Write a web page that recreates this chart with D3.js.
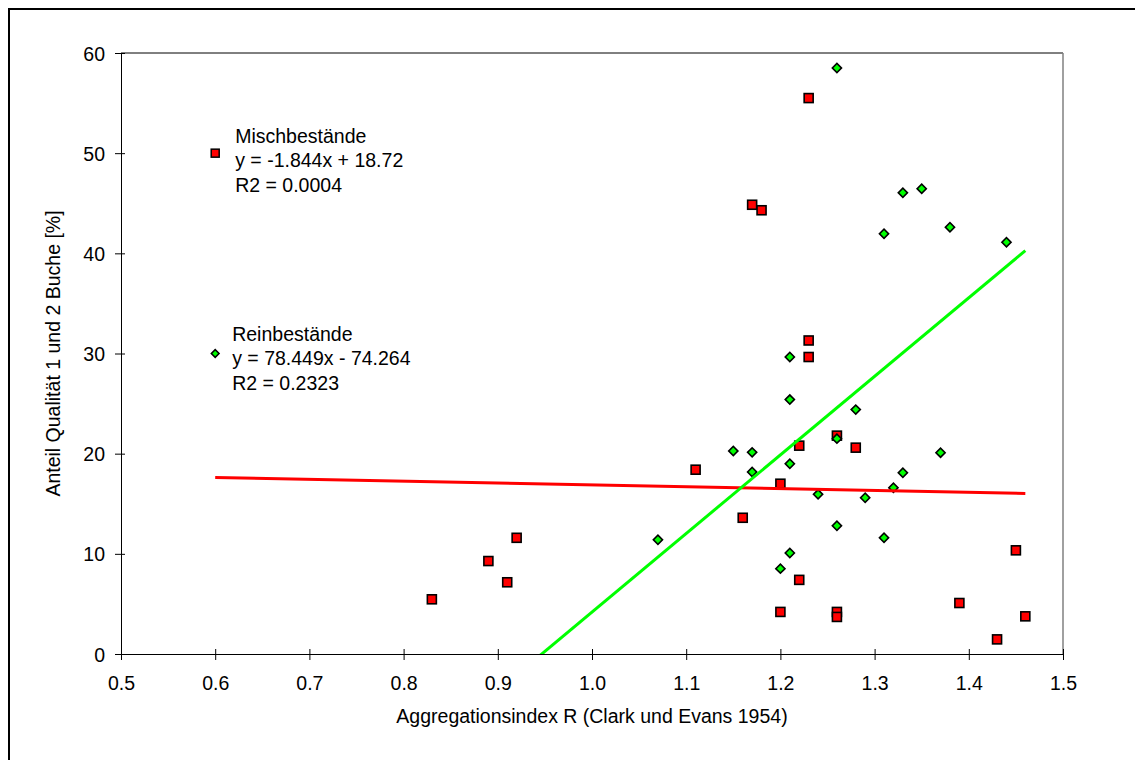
<!DOCTYPE html>
<html>
<head>
<meta charset="utf-8">
<script src="https://cdn.jsdelivr.net/npm/d3@7"></script>
<style>
    body { margin: 0; background: #fff; }
    svg { display: block; font-family: "Liberation Sans", Arial, sans-serif; }
</style>
</head>
<body>
<div id="chart"></div>
<script>
// Mischbestände (rote Quadrate)
const mischX = [1.23, 1.17, 1.18, 1.23, 1.23, 1.26, 1.22, 1.28, 1.11, 1.20, 1.16, 1.22,
                1.20, 1.26, 1.26, 0.92, 0.89, 0.91, 0.83, 1.45, 1.39, 1.46, 1.43];
const mischY = [55.5, 44.85, 44.3, 31.3, 29.65, 21.8, 20.8, 20.6, 18.4, 17.0, 13.6, 7.4,
                4.2, 4.2, 3.7, 11.6, 9.28, 7.16, 5.46, 10.35, 5.09, 3.76, 1.46];

// Reinbestände (grüne Rauten)
const reinX = [1.26, 1.31, 1.33, 1.35, 1.38, 1.44, 1.28, 1.37, 1.33, 1.32, 1.29, 1.31,
               1.21, 1.21, 1.26, 1.15, 1.17, 1.21, 1.17, 1.24, 1.26, 1.07, 1.21, 1.20];
const reinY = [58.5, 41.95, 46.05, 46.45, 42.6, 41.1, 24.4, 20.1, 18.1, 16.6, 15.6, 11.6,
               29.65, 25.4, 21.5, 20.27, 20.13, 19.0, 18.17, 15.94, 12.8, 11.4, 10.08, 8.52];

// Trendlinien: Steigung, Achsenabschnitt, x-Bereich
const mischTrend = {slope: -1.844, intercept: 18.72};
const reinTrend = {slope: 78.449, intercept: -74.264};
const trendRange = [0.6, 1.46];

// Legende (als Punkte im Diagramm) und Texte
const legendPos = [[0.6, 50], [0.6, 30]];
const mischLabel = ["Mischbestände", "y = -1.844x + 18.72", "R2 = 0.0004"];
const reinLabel = ["Reinbestände", "y = 78.449x - 74.264", "R2 = 0.2323"];

const xTicks = [0.5, 0.6, 0.7, 0.8, 0.9, 1.0, 1.1, 1.2, 1.3, 1.4, 1.5];
const yTicks = [0, 10, 20, 30, 40, 50, 60];

const width = 1135, height = 760;
const plot = {left: 121, right: 1063, top: 53, bottom: 654};

const svg = d3.select("#chart").append("svg")
    .attr("width", width)
    .attr("height", height);

// äußerer Rahmen
svg.append("rect")
    .attr("x", 9).attr("y", 9)
    .attr("width", 1140).attr("height", 770)
    .attr("fill", "none")
    .attr("stroke", "#000")
    .attr("stroke-width", 2);

const xScale = d3.scaleLinear().domain([0.5, 1.5]).range([plot.left, plot.right]);
const yScale = d3.scaleLinear().domain([0, 60]).range([plot.bottom, plot.top]);

svg.append("clipPath").attr("id", "clip")
    .append("rect")
    .attr("x", plot.left).attr("y", plot.top)
    .attr("width", plot.right - plot.left).attr("height", plot.bottom - plot.top);

// Rahmen der Zeichnungsfläche (oben schwarz, rechts grau)
svg.append("line")
    .attr("x1", plot.left).attr("x2", plot.right)
    .attr("y1", plot.top).attr("y2", plot.top)
    .attr("stroke", "#000");
svg.append("line")
    .attr("x1", plot.right).attr("x2", plot.right)
    .attr("y1", plot.top).attr("y2", plot.bottom)
    .attr("stroke", "#808080")
    .attr("stroke-width", 1.5);

// X-Achse
const xAxis = svg.append("g")
    .attr("transform", `translate(0,${plot.bottom})`)
    .call(d3.axisBottom(xScale).tickValues(xTicks).tickFormat(d3.format(".1f")).tickSizeInner(6).tickSizeOuter(0));
xAxis.selectAll(".tick line").attr("y1", -5).attr("stroke", "#000");
xAxis.selectAll(".tick text")
    .attr("y", 36).attr("dy", null)
    .attr("fill", "#000")
    .style("font-size", "19.5px")
    .style("font-family", "'Liberation Sans', Arial, sans-serif");
xAxis.select(".domain").attr("stroke", "#000");

// Y-Achse
const yAxis = svg.append("g")
    .attr("transform", `translate(${plot.left},0)`)
    .call(d3.axisLeft(yScale).tickValues(yTicks).tickSizeInner(6).tickSizeOuter(0));
yAxis.selectAll(".tick line").attr("x1", -6).attr("x2", 4).attr("stroke", "#000");
yAxis.selectAll(".tick text")
    .attr("x", -16).attr("dy", "0.36em")
    .attr("fill", "#000")
    .style("font-size", "19.5px")
    .style("font-family", "'Liberation Sans', Arial, sans-serif");
yAxis.select(".domain").attr("stroke", "#000");

// Achsentitel
svg.append("text")
    .attr("x", (plot.left + plot.right) / 2)
    .attr("y", 723)
    .attr("text-anchor", "middle")
    .style("font-size", "19.5px")
    .text("Aggregationsindex R (Clark und Evans 1954)");

svg.append("text")
    .attr("transform", `translate(60,${(plot.top + plot.bottom) / 2}) rotate(-90)`)
    .attr("text-anchor", "middle")
    .style("font-size", "19.5px")
    .text("Anteil Qualität 1 und 2 Buche [%]");

// Marker
const sq = 9;
const misch = mischX.map((x, i) => ({x: x, y: mischY[i]}));
const rein = reinX.map((x, i) => ({x: x, y: reinY[i]}));

svg.append("g").selectAll("rect")
    .data(misch)
    .join("rect")
    .attr("x", d => xScale(d.x) - sq / 2)
    .attr("y", d => yScale(d.y) - sq / 2)
    .attr("width", sq).attr("height", sq)
    .attr("fill", "#ff0000")
    .attr("stroke", "#000")
    .attr("stroke-width", 1.6);

const diamond = d3.symbol().type(d3.symbolSquare).size(42);
svg.append("g").selectAll("path")
    .data(rein)
    .join("path")
    .attr("d", diamond)
    .attr("transform", d => `translate(${xScale(d.x)},${yScale(d.y)}) rotate(45)`)
    .attr("fill", "#00ff00")
    .attr("stroke", "#000")
    .attr("stroke-width", 1.6);

// Trendlinien
const trendLine = d3.line()
    .x(d => xScale(d[0]))
    .y(d => yScale(d[1]));

[[mischTrend, "#ff0000"], [reinTrend, "#00ff00"]].forEach(([t, col]) => {
    const pts = trendRange.map(x => [x, t.slope * x + t.intercept]);
    svg.append("path")
        .attr("clip-path", "url(#clip)")
        .attr("d", trendLine(pts))
        .attr("fill", "none")
        .attr("stroke", col)
        .attr("stroke-width", 3);
});

// Legende
const lsq = 8;
svg.append("rect")
    .attr("x", xScale(legendPos[0][0]) - lsq / 2)
    .attr("y", yScale(legendPos[0][1]) - lsq / 2)
    .attr("width", lsq).attr("height", lsq)
    .attr("fill", "#ff0000")
    .attr("stroke", "#000")
    .attr("stroke-width", 1.5);
svg.append("path")
    .attr("d", d3.symbol().type(d3.symbolSquare).size(30))
    .attr("transform", `translate(${xScale(legendPos[1][0])},${yScale(legendPos[1][1])}) rotate(45)`)
    .attr("fill", "#00ff00")
    .attr("stroke", "#000")
    .attr("stroke-width", 1.5);

function drawLabel(lines, x, y) {
    svg.append("text")
        .attr("x", x).attr("y", y)
        .style("font-size", "19.5px")
        .selectAll("tspan")
        .data(lines)
        .join("tspan")
        .attr("x", x)
        .attr("dy", (d, i) => i === 0 ? 0 : 24.3)
        .text(d => d);
}
drawLabel(mischLabel, xScale(legendPos[0][0]) + 20, yScale(legendPos[0][1]) - 10);
drawLabel(reinLabel, xScale(legendPos[1][0]) + 17, yScale(legendPos[1][1]) - 12.5);
</script>
</body>
</html>
